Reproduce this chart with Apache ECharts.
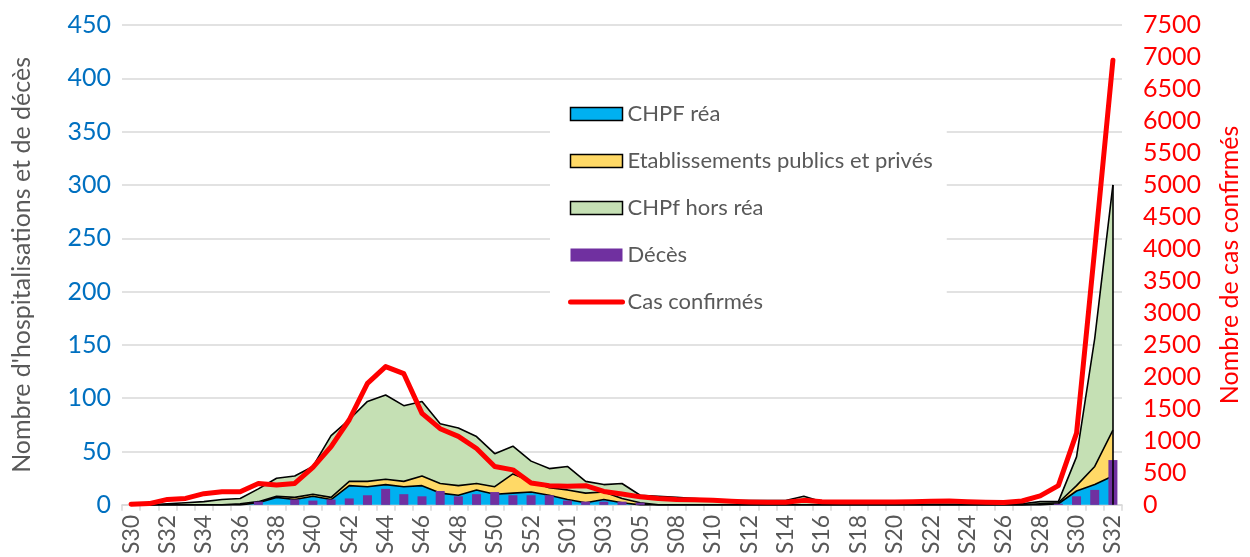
<!DOCTYPE html>
<html>
<head>
<meta charset="utf-8">
<script src="https://cdn.jsdelivr.net/npm/echarts@6/dist/echarts.min.js"></script>
<style>
html,body{margin:0;padding:0;background:#fff;}
#chart{width:1250px;height:557px;}
</style>
</head>
<body>
<div id="chart"></div>
<script>
const categories = ['S30','S31','S32','S33','S34','S35','S36','S37','S38','S39','S40','S41','S42','S43','S44','S45','S46','S47','S48','S49','S50','S51','S52','S53',
  'S01','S02','S03','S04','S05','S06','S08','S09','S10','S11','S12','S13','S14','S15','S16','S17','S18','S19','S20','S21','S22','S23','S24','S25','S26','S27','S28','S29','S30 ','S31 ','S32 '];
const chpfRea = [0,0,0,0,0,0,0,2,7,5,8,5,18,17,19,17,18,11,9,14,10,11,12,9,
  5,2,5,2,0,0,0,0,0,0,0,0,0,0,0,0,0,0,0,0,0,0,0,0,0,0,0,1,13,19,27];
const etabPublicsPrives = [0,0,0,0,0,0,1,1,1,2,2,2,4,5,5,5,9,9,9,6,7,18,10,7,
  9,9,7,4,2,0,0,0,0,0,0,0,0,0,0,0,0,0,0,0,0,0,0,0,0,0,1,1,5,17,43];
const chpfHorsRea = [0,0,1,2,3,5,5,12,17,20,26,58,58,75,79,71,70,56,54,44,31,26,19,18,
  22,11,7,14,7,8,7,6,5,4,4,4,4,8,3,2,2,2,2,2,2,2,2,1,1,1,2,1,27,120,230];
const deces = [0,0,0,0,0,0,0,3,0,5,4,5,6,9,15,10,8,13,8,10,12,9,9,9,
  4,3,3,3,2,0,0,0,0,0,0,0,0,0,0,0,0,0,0,0,0,0,0,0,0,0,0,1,8,14,42];
const casConfirmes = [10,20,85,100,175,205,205,335,310,335,585,910,1330,1900,2160,2050,1430,1190,1070,880,600,547,340,300,
  290,300,210,170,125,100,85,80,70,55,45,40,40,70,50,45,45,45,45,50,55,60,50,40,35,60,140,300,1120,4000,6950];
const leftTicks = {min:0, max:450, interval:50};
const rightTicks = {min:0, max:7500, interval:500};

const FONT = 'Lato';
const chart = echarts.init(document.getElementById('chart'), null, {renderer:'canvas'});
const lastCat = categories[categories.length-1];
const lastTotal = chpfRea[chpfRea.length-1] + etabPublicsPrives[etabPublicsPrives.length-1] + chpfHorsRea[chpfHorsRea.length-1];

const areaSeries = (name, data, color, extra) => Object.assign({
  name, type:'line', stack:'hosp', data, yAxisIndex:0,
  symbol:'none', showSymbol:false,
  itemStyle:{color},
  lineStyle:{color:'#000', width:1.6},
  areaStyle:{color, opacity:1},
  z:2, animation:false
}, extra||{});

chart.setOption({
  animation:false,
  textStyle:{fontFamily:FONT},
  grid:{left:122, right:123, top:25, bottom:52},
  legend:{
    orient:'vertical', left:550, top:88,
    padding:[13,14,13,18],
    backgroundColor:'#fff',
    itemWidth:52, itemHeight:13, itemGap:21,
    textStyle:{fontFamily:FONT, fontSize:22, color:'#595959', lineHeight:26},
    data:[
      {name:'CHPF réa', icon:'rect', itemStyle:{color:'#00B0F0', borderColor:'#000', borderWidth:1.5}},
      {name:'Etablissements publics et privés', icon:'rect', itemStyle:{color:'#FFD966', borderColor:'#000', borderWidth:1.5}},
      {name:'CHPf hors réa', icon:'rect', itemStyle:{color:'#C5E0B4', borderColor:'#000', borderWidth:1.5}},
      {name:'Décès', icon:'rect', itemStyle:{color:'#7030A0'}},
      {name:'Cas confirmés', itemStyle:{opacity:0}, lineStyle:{color:'#FF0000', width:5, cap:'round'}}
    ]
  },
  xAxis:{
    type:'category', data:categories, boundaryGap:true,
    axisLine:{lineStyle:{color:'#d9d9d9', width:1.5}},
    axisTick:{show:true, interval:0, length:6, lineStyle:{color:'#d9d9d9', width:1.5}},
    axisLabel:{interval:1, rotate:90, margin:10, fontFamily:FONT, fontSize:23, color:'#595959',
      formatter:v=>v.trim()}
  },
  yAxis:[
    {type:'value', min:leftTicks.min, max:leftTicks.max, interval:leftTicks.interval,
     name:"Nombre d'hospitalisations et de décès", nameLocation:'middle', nameRotate:90, nameGap:88,
     nameTextStyle:{fontFamily:FONT, fontSize:25, color:'#595959'},
     axisLine:{show:false}, axisTick:{show:false},
     axisLabel:{fontFamily:FONT, fontSize:25, color:'#0070C0', margin:11, formatter:v=>String(v)},
     splitLine:{lineStyle:{color:'#d9d9d9', width:1.5}}},
    {type:'value', min:rightTicks.min, max:rightTicks.max, interval:rightTicks.interval, position:'right',
     name:'Nombre de cas confirmés', nameLocation:'middle', nameRotate:90, nameGap:95,
     nameTextStyle:{fontFamily:FONT, fontSize:25, color:'#FF0000'},
     axisLine:{show:false}, axisTick:{show:false},
     axisLabel:{fontFamily:FONT, fontSize:25, color:'#FF0000', margin:21, formatter:v=>String(v)},
     splitLine:{show:false}}
  ],
  series:[
    areaSeries('CHPF réa', chpfRea, '#00B0F0'),
    areaSeries('Etablissements publics et privés', etabPublicsPrives, '#FFD966'),
    areaSeries('CHPf hors réa', chpfHorsRea, '#C5E0B4', {
      markLine:{silent:true, symbol:['none','none'], label:{show:false},
        lineStyle:{color:'#000', width:1.6, type:'solid'},
        data:[[{coord:[lastCat,0]},{coord:[lastCat,lastTotal]}]]}
    }),
    {name:'Décès', type:'bar', data:deces, yAxisIndex:0, barWidth:9,
     itemStyle:{color:'#7030A0'}, z:3},
    {name:'Cas confirmés', type:'line', data:casConfirmes, yAxisIndex:1,
     symbol:'none', showSymbol:false,
     lineStyle:{color:'#FF0000', width:5, cap:'round', join:'round'},
     itemStyle:{color:'#FF0000'}, z:4}
  ]
});
</script>
</body>
</html>
